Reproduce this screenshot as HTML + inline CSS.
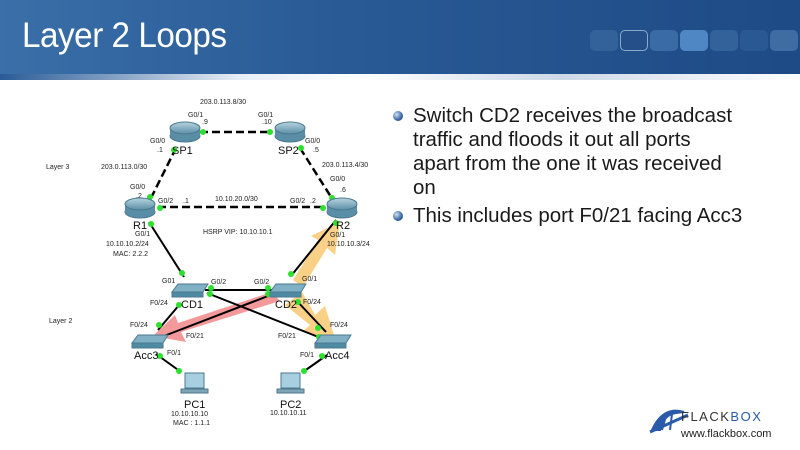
<!DOCTYPE html>
<html><head><meta charset="utf-8"><style>
body{margin:0;width:800px;height:450px;overflow:hidden;background:#fff;font-family:"Liberation Sans",sans-serif}
.hdr{position:absolute;left:0;top:0;width:800px;height:80px;background:linear-gradient(90deg,#3a6fa8 0%,#2a5b96 40%,#1e4a85 100%)}
.hdr:after{content:"";position:absolute;left:0;bottom:0;width:800px;height:6px;background:linear-gradient(90deg,#2a5b96 0%,#e8eef6 30%,#ffffff 45%,#cdd9e8 70%,#ffffff 100%)}
.title{position:absolute;left:22px;top:16px;color:#fff;font-size:35px;letter-spacing:-0.5px;transform:scaleX(0.95);transform-origin:left}
.sq{position:absolute;top:30px;width:28px;height:21px;border-radius:5px}
.txt{position:absolute;left:413px;top:104px;width:326px;font-size:20.5px;line-height:24px;color:#1a1a1a}
.b{position:absolute;left:-20px;width:10px;height:10px;border-radius:50%;background:radial-gradient(circle at 35% 35%,#cfe0f5,#3a64a0 60%,#1d3d70)}
</style></head><body>
<div class="hdr"></div>
<div class="title">Layer 2 Loops</div>
<div class="sq" style="left:590px;background:#33629a"></div>
<div class="sq" style="left:620px;background:#244f88;border:1px solid #8aa9cc;width:26px;height:19px"></div>
<div class="sq" style="left:650px;background:#3b6ba4"></div>
<div class="sq" style="left:680px;background:#4f87c4"></div>
<div class="sq" style="left:710px;background:#33629a"></div>
<div class="sq" style="left:740px;background:#2a5892"></div>
<div class="sq" style="left:770px;background:#3e6ca3"></div>
<div class="txt">
<div style="position:relative"><span class="b" style="top:7px"></span>Switch CD2 receives the broadcast traffic and floods it out all ports apart from the one it was received on</div>
<div style="position:relative;margin-top:4px;white-space:nowrap"><span class="b" style="top:7px"></span>This includes port F0/21 facing Acc3</div>
</div>
<svg width="800" height="450" style="position:absolute;left:0;top:0" font-family="Liberation Sans,sans-serif">
<defs>
<linearGradient id="rg" x1="0" y1="0" x2="0" y2="1"><stop offset="0" stop-color="#b8d4e0"/><stop offset="1" stop-color="#5a8ea6"/></linearGradient>
</defs>
<g stroke="#000" stroke-width="2.5" stroke-dasharray="8,4" fill="none">
<line x1="200" y1="132" x2="272" y2="132"/>
<line x1="176" y1="148" x2="150" y2="200"/>
<line x1="300" y1="148" x2="333" y2="200"/>
<line x1="158" y1="207" x2="325" y2="207"/>
</g>
<g fill="#f7c66a" opacity="0.8">
<polygon points="293,280 318,240 311,236 340,222 335,255 327,248 303,287"/>
<polygon points="285,305 302,292 315,315 325,306 336,342 302,332 310,325"/>
</g>
<polygon points="272,292 280,301 181,332 186,342 153,336 175,315 178,323" fill="#f08080" opacity="0.8"/>
<g stroke="#000" stroke-width="2" fill="none">
<line x1="149" y1="222" x2="184" y2="277"/>
<line x1="291" y1="276" x2="336" y2="220"/>
<line x1="205" y1="290" x2="272" y2="290"/>
<line x1="207" y1="293" x2="326" y2="340"/>
<line x1="268" y1="296" x2="164" y2="336"/>
<line x1="180" y1="304" x2="158" y2="330"/>
<line x1="296" y1="300" x2="326" y2="332"/>
<line x1="156" y1="354" x2="181" y2="372"/>
<line x1="327" y1="355" x2="303" y2="372"/>
</g>
<g fill="#2ee02e">
<circle cx="203" cy="132" r="3"/><circle cx="270" cy="132" r="3"/>
<circle cx="174" cy="150" r="3"/><circle cx="150" cy="197" r="3"/>
<circle cx="301" cy="148" r="3"/><circle cx="332" cy="198" r="3"/>
<circle cx="160" cy="208" r="3"/><circle cx="323" cy="208" r="3"/>
<circle cx="151" cy="224" r="3"/><circle cx="182" cy="273" r="3"/>
<circle cx="211" cy="288" r="3"/><circle cx="268" cy="288" r="3"/>
<circle cx="210" cy="294" r="3"/><circle cx="268" cy="294" r="3"/>
<circle cx="179" cy="305" r="3"/><circle cx="159" cy="325" r="3"/>
<circle cx="298" cy="302" r="3"/><circle cx="318" cy="328" r="3"/>
<circle cx="319" cy="337" r="3"/><circle cx="291" cy="274" r="3"/>
<circle cx="160" cy="356" r="3"/><circle cx="179" cy="371" r="3"/>
<circle cx="322" cy="356" r="3"/><circle cx="304" cy="371" r="3"/>
<circle cx="336" cy="223" r="3"/>
</g>
<g stroke="#4b7a90" stroke-width="1">
<ellipse cx="185" cy="136" rx="15" ry="6" fill="#5a8ea6"/><rect x="170" y="128" width="30" height="8" fill="#5a8ea6" stroke="none"/><ellipse cx="185" cy="128" rx="15" ry="6" fill="url(#rg)"/>
<ellipse cx="290" cy="136" rx="15" ry="6" fill="#5a8ea6"/><rect x="275" y="128" width="30" height="8" fill="#5a8ea6" stroke="none"/><ellipse cx="290" cy="128" rx="15" ry="6" fill="url(#rg)"/>
<ellipse cx="140" cy="212" rx="15" ry="6" fill="#5a8ea6"/><rect x="125" y="204" width="30" height="8" fill="#5a8ea6" stroke="none"/><ellipse cx="140" cy="204" rx="15" ry="6" fill="url(#rg)"/>
<ellipse cx="342" cy="212" rx="15" ry="6" fill="#5a8ea6"/><rect x="327" y="204" width="30" height="8" fill="#5a8ea6" stroke="none"/><ellipse cx="342" cy="204" rx="15" ry="6" fill="url(#rg)"/>
<polygon points="178,284 208,284 203,292 172,292" fill="#7fb0c4"/><rect x="172" y="292" width="31" height="5" fill="#4f8aa3"/>
<polygon points="276,284 306,284 301,292 270,292" fill="#7fb0c4"/><rect x="270" y="292" width="31" height="5" fill="#4f8aa3"/>
<polygon points="138,335 168,335 163,343 132,343" fill="#7fb0c4"/><rect x="132" y="343" width="31" height="5" fill="#4f8aa3"/>
<polygon points="321,335 351,335 346,343 315,343" fill="#7fb0c4"/><rect x="315" y="343" width="31" height="5" fill="#4f8aa3"/>
<rect x="185" y="373" width="19" height="15" fill="#a8cfe0" stroke="#4b7a90"/><rect x="181" y="389" width="27" height="4" fill="#7fa6b8"/>
<rect x="281" y="373" width="19" height="15" fill="#a8cfe0" stroke="#4b7a90"/><rect x="277" y="389" width="27" height="4" fill="#7fa6b8"/>
</g>
<g font-size="7" fill="#222">
<text x="200" y="104">203.0.113.8/30</text>
<text x="188" y="117">G0/1</text><text x="202" y="124">.9</text>
<text x="258" y="117">G0/1</text><text x="262" y="124">.10</text>
<text x="150" y="143">G0/0</text><text x="157" y="152">.1</text>
<text x="305" y="143">G0/0</text><text x="313" y="152">.5</text>
<text x="46" y="169">Layer 3</text>
<text x="101" y="169">203.0.113.0/30</text>
<text x="322" y="167">203.0.113.4/30</text>
<text x="130" y="189">G0/0</text><text x="136" y="198">.2</text>
<text x="330" y="181">G0/0</text><text x="340" y="192">.6</text>
<text x="158" y="203">G0/2</text><text x="183" y="203">.1</text>
<text x="215" y="201">10.10.20.0/30</text>
<text x="290" y="203">G0/2</text><text x="310" y="203">.2</text>
<text x="203" y="234">HSRP VIP: 10.10.10.1</text>
<text x="135" y="236">G0/1</text>
<text x="106" y="246">10.10.10.2/24</text>
<text x="113" y="256">MAC: 2.2.2</text>
<text x="330" y="237">G0/1</text>
<text x="327" y="246">10.10.10.3/24</text>
<text x="162" y="283">G01</text>
<text x="211" y="284">G0/2</text>
<text x="254" y="284">G0/2</text>
<text x="302" y="281">G0/1</text>
<text x="150" y="305">F0/24</text>
<text x="303" y="304">F0/24</text>
<text x="49" y="323">Layer 2</text>
<text x="130" y="327">F0/24</text>
<text x="186" y="338">F0/21</text>
<text x="278" y="338">F0/21</text>
<text x="330" y="327">F0/24</text>
<text x="167" y="355">F0/1</text>
<text x="300" y="357">F0/1</text>
<text x="171" y="416">10.10.10.10</text>
<text x="173" y="425">MAC : 1.1.1</text>
<text x="270" y="415">10.10.10.11</text>
</g>
<g font-size="11" fill="#111">
<text x="172" y="154">SP1</text><text x="278" y="154">SP2</text>
<text x="133" y="229">R1</text><text x="336" y="229">R2</text>
<text x="181" y="308">CD1</text><text x="275" y="308">CD2</text>
<text x="134" y="359">Acc3</text><text x="325" y="359">Acc4</text>
<text x="184" y="408">PC1</text><text x="280" y="408">PC2</text>
</g>
<path d="M652,430 C660,412 672,408 684,412 L676,413 C668,414 662,420 660,430 Z M662,430 L666,416 M670,430 L672,414" fill="#2a5aa8" stroke="#2a5aa8" stroke-width="2"/>
<line x1="650" y1="432" x2="688" y2="415" stroke="#2a5aa8" stroke-width="3"/>
<text x="681" y="421" font-size="13" fill="#333" letter-spacing="1.5">FLACK<tspan fill="#2a5aa8">BOX</tspan></text>
<text x="681" y="437" font-size="11" fill="#222">www.flackbox.com</text>
</svg>
</body></html>
